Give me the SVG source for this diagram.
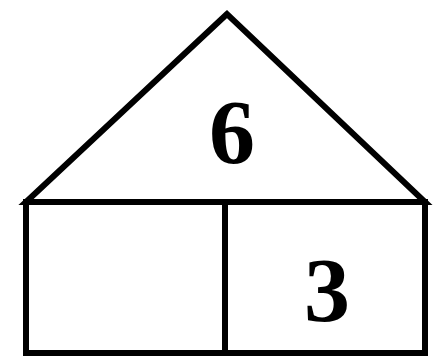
<svg xmlns="http://www.w3.org/2000/svg" width="433" height="361" viewBox="0 0 433 361">
<style>
.ln{fill:none;stroke:#000;stroke-width:6;stroke-linejoin:miter;stroke-linecap:square}
.num{font-family:"Liberation Serif","Times New Roman",serif;font-weight:bold;font-size:92px;text-anchor:middle;fill:#000}
</style>
<rect width="433" height="361" fill="#fff"/>
<g id="roof">
<polygon class="ln" points="227,14 26,202 425,202"/>
<text class="num" x="232" y="163">6</text>
</g>
<g id="left-box">
<rect class="ln" x="26" y="202" width="199" height="151"/>
</g>
<g id="right-box">
<rect class="ln" x="225" y="202" width="200" height="151"/>
<text class="num" x="327" y="321">3</text>
</g>
<g id="connectors"/>
</svg>
